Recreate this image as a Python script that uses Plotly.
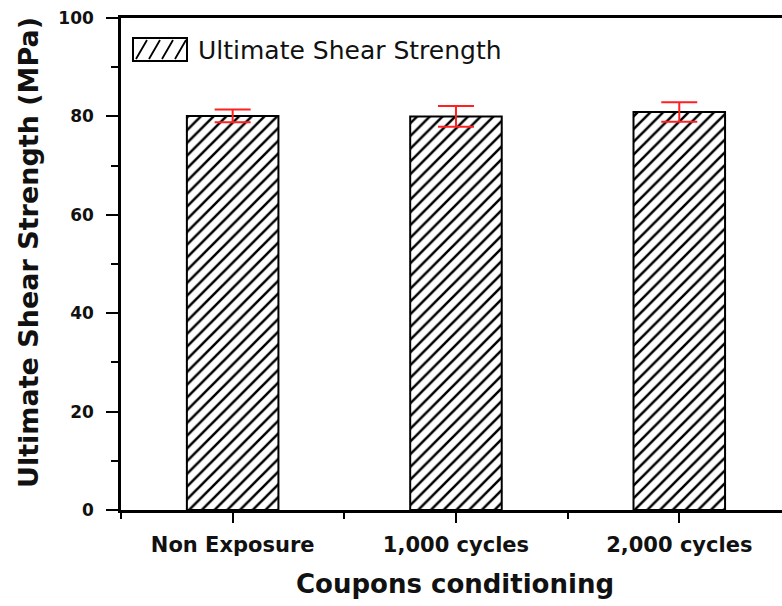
import plotly.graph_objects as go

categories = ["Non Exposure", "1,000 cycles", "2,000 cycles"]
strength = [80.1, 80.0, 80.9]
strength_err = [1.3, 2.1, 2.0]
y_ticks = [0, 20, 40, 60, 80, 100]
series_name = "Ultimate Shear Strength"

# layout geometry (pixels)
W, H = 782, 606
L, R, T, B = 121, 0, 18, 96
PW, PH = W - L - R, H - T - B


def px(x):
    return (x - L) / PW


def py(y):
    return (H - B - y) / PH


fig = go.Figure()
fig.add_trace(go.Bar(
    x=list(range(len(categories))),
    y=strength,
    width=0.41,
    name=series_name,
    marker=dict(
        color="white",
        line=dict(color="black", width=2),
        pattern=dict(shape="/", fgcolor="black", bgcolor="white", fgopacity=1,
                     size=9, solidity=0.28),
    ),
    error_y=dict(type="data", array=strength_err, visible=True, color="#ff2020", thickness=2, width=18),
    showlegend=False,
))

font_family = "DejaVu Sans"

# legend swatch (decoration)
shapes = [dict(type="rect", xref="paper", yref="paper",
               x0=px(133), x1=px(187), y0=py(61), y1=py(38),
               line=dict(color="black", width=2), fillcolor="white")]
path = ""
for sx in [136, 149, 162, 175]:
    path += f"M{px(sx)},{py(59)} L{px(sx + 11)},{py(40)} "
shapes.append(dict(type="path", xref="paper", yref="paper", path=path,
                   line=dict(color="black", width=1.8)))

annotations = [
    dict(text=series_name, xref="paper", yref="paper", x=px(196), y=py(50),
         xanchor="left", yanchor="middle", showarrow=False,
         font=dict(family=font_family, size=25, color="#111")),
    dict(text="<b>Ultimate Shear Strength (MPa)</b>", xref="paper", yref="paper",
         x=px(28), y=py(253), xanchor="center", yanchor="middle", textangle=-90,
         showarrow=False, font=dict(family=font_family, size=27, color="#111")),
    dict(text="<b>Coupons conditioning</b>", xref="paper", yref="paper",
         x=px(455), y=py(584), xanchor="center", yanchor="middle",
         showarrow=False, font=dict(family=font_family, size=26, color="#111")),
]

fig.update_layout(
    width=W, height=H,
    margin=dict(l=L, r=R, t=T, b=B, pad=0),
    paper_bgcolor="white", plot_bgcolor="white",
    shapes=shapes, annotations=annotations,
    xaxis=dict(
        range=[-0.5, 2.46],
        tickvals=list(range(len(categories))),
        ticktext=[f"<b>{c}</b>" for c in categories],
        tickfont=dict(family=font_family, size=21, color="#111"),
        ticks="outside", ticklen=10, tickwidth=2, tickcolor="black",
        ticklabelstandoff=4,
        minor=dict(tick0=0.5, dtick=1, ticks="outside", ticklen=6, tickwidth=2, tickcolor="black"),
        showline=True, linewidth=2.5, linecolor="black", mirror=True,
        showgrid=False, zeroline=False,
    ),
    yaxis=dict(
        range=[0, 100],
        tickvals=y_ticks,
        ticktext=[f"<b>{v}</b>" for v in y_ticks],
        tickfont=dict(family=font_family, size=17, color="#111"),
        ticks="outside", ticklen=12, tickwidth=2, tickcolor="black",
        ticklabelstandoff=9,
        minor=dict(dtick=10, ticks="outside", ticklen=7, tickwidth=2, tickcolor="black"),
        showline=True, linewidth=2.5, linecolor="black",
        showgrid=False, zeroline=False,
    ),
)

fig.write_html("out.html", config={"displayModeBar": False},
               post_script="document.body.style.margin='0';document.body.style.padding='0';")
